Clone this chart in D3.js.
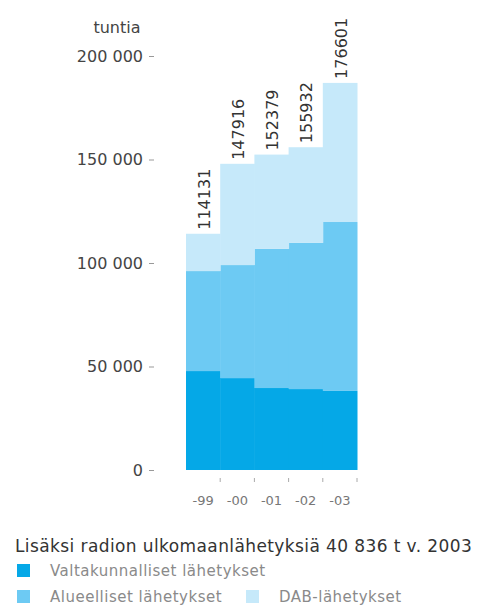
<!DOCTYPE html>
<html><head><meta charset="utf-8">
<script src="https://cdn.jsdelivr.net/npm/d3@7"></script>
<style>
html,body{margin:0;padding:0;background:#fff;}
svg{display:block;font-family:"DejaVu Sans",sans-serif;}
</style></head>
<body>
<svg id="chart" width="477" height="607"></svg>
<script>
const years = ["-99","-00","-01","-02","-03"];
const valtakunnalliset = [47800, 44400, 39600, 39100, 38200];
const alueelliset = [48300, 54600, 67200, 70600, 81600];
const dab = [18031, 48916, 45579, 46232, 67200];
const totalLabels = ["114131","147916","152379","155932","176601"];
const yTicks = [0, 50000, 100000, 150000, 200000];
const seriesNames = ["Valtakunnalliset lähetykset","Alueelliset lähetykset","DAB-lähetykset"];
const colors = ["#05a8e7","#6dcaf3","#c6e9fa"];
const unitLabel = "tuntia";
const note = "Lisäksi radion ulkomaanlähetyksiä 40 836 t v. 2003";

const svg = d3.select("#chart");
const x = d3.scaleBand().domain(years).range([186, 357]).padding(0);
const y = d3.scaleLinear().domain([0, 200000]).range([470, 56]);

const rows = years.map((yr,i)=>({year:yr, v:valtakunnalliset[i], a:alueelliset[i], d:dab[i]}));
const stack = d3.stack().keys(["v","a","d"]);
const layers = stack(rows);

svg.append("g").selectAll("g").data(layers).join("g")
  .attr("fill",(d,i)=>colors[i])
  .selectAll("rect").data(d=>d).join("rect")
  .attr("x",d=>x(d.data.year))
  .attr("width",x.bandwidth()+0.5)
  .attr("y",d=>y(d[1]))
  .attr("height",d=>y(d[0])-y(d[1]));

// total labels
const topLayer = layers[2];
svg.append("g").selectAll("text").data(topLayer).join("text")
  .attr("transform",(d)=>`translate(${x(d.data.year)+x.bandwidth()/2+1},${y(d[1])-4}) rotate(-90)`)
  .attr("dy","0.35em")
  .attr("font-size",16)
  .attr("fill","#333")
  .text((d,i)=>totalLabels[i]);

// y axis
const fmt = d3.formatLocale({decimal:",",thousands:" ",grouping:[3],currency:["",""]}).format(",d");
const yAxis = svg.append("g").attr("transform","translate(154,0)")
  .call(d3.axisLeft(y).tickValues(yTicks).tickFormat(fmt).tickSize(5).tickPadding(6));
yAxis.select(".domain").remove();
yAxis.selectAll(".tick line").attr("stroke","#999");
yAxis.selectAll(".tick text").attr("font-size",16).attr("fill","#444").attr("font-family","DejaVu Sans");

svg.append("text").attr("x",117).attr("y",33).attr("text-anchor","middle")
  .attr("font-size",16).attr("fill","#444").text(unitLabel);

// x axis
const xAxis = svg.append("g").attr("transform","translate(0,472)")
  .call(d3.axisBottom(x).tickSize(0).tickPadding(24));
xAxis.select(".domain").remove();
xAxis.selectAll(".tick text").attr("font-size",13).attr("fill","#777").attr("font-family","DejaVu Sans");
svg.append("g").selectAll("line").data(years).join("line")
  .attr("x1",d=>x(d)+x.bandwidth()).attr("x2",d=>x(d)+x.bandwidth())
  .attr("y1",478).attr("y2",482).attr("stroke","#aaa");

// note
svg.append("text").attr("x",15).attr("y",552).attr("font-size",17)
  .attr("letter-spacing",0.4).attr("fill","#333").text(note);

// legend
const legendItems = [
  {name:seriesNames[0], color:colors[0], x:17, y:564},
  {name:seriesNames[1], color:colors[1], x:17, y:590},
  {name:seriesNames[2], color:colors[2], x:246, y:590}
];
const lg = svg.append("g").selectAll("g").data(legendItems).join("g")
  .attr("transform",d=>`translate(${d.x},${d.y})`);
lg.append("rect").attr("width",13).attr("height",13).attr("fill",d=>d.color);
lg.append("text").attr("x",33).attr("y",7).attr("dy","0.35em")
  .attr("font-size",15).attr("letter-spacing",0.5).attr("fill","#8a8a8a").text(d=>d.name);
</script>
</body></html>
